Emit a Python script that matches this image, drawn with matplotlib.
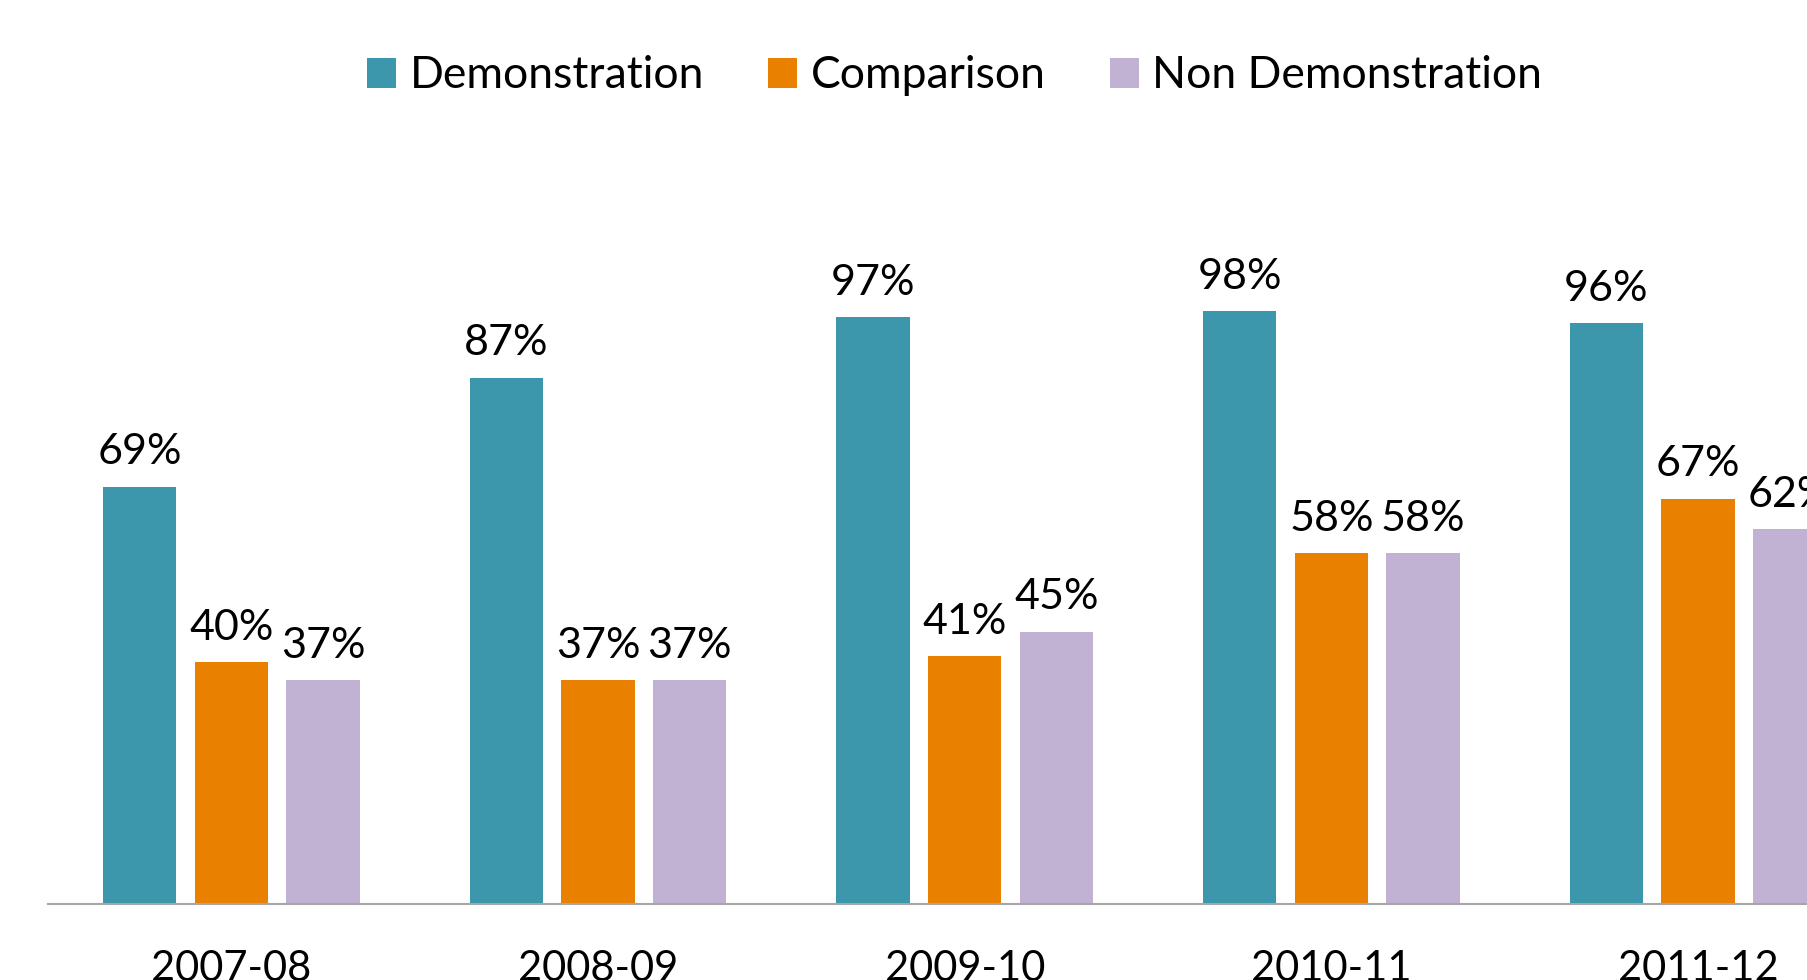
import matplotlib
matplotlib.use("Agg")
import matplotlib.pyplot as plt
import numpy as np

years = ["2007-08", "2008-09", "2009-10", "2010-11", "2011-12"]
demonstration = [69, 87, 97, 98, 96]
comparison = [40, 37, 41, 58, 67]
non_demonstration = [37, 37, 45, 58, 62]

series = [
    ("Demonstration", demonstration, "#3C97AC"),
    ("Comparison", comparison, "#E98000"),
    ("Non Demonstration", non_demonstration, "#C1B1D3"),
]

plt.rcParams['font.family'] = ['Lato', 'DejaVu Sans']

fig = plt.figure(figsize=(18.08, 9.80), dpi=100)
# axes runs past the right edge, like the cropped original
ax = fig.add_axes([48 / 1808, 76 / 980, 1833.5 / 1808, 726 / 980])

x = np.arange(len(years))
offsets = [-0.25, 0, 0.25]
handles = []
for (name, vals, color), off in zip(series, offsets):
    bars = ax.bar(x + off, vals, width=0.2, color=color, label=name)
    handles.append(bars)
    for xi, v in zip(x + off, vals):
        ax.annotate(f"{v}%", (xi, v), xytext=(0, 11), textcoords="offset points",
                    ha="center", va="bottom", fontsize=31)

ax.set_xlim(-0.5, 4.5)
ax.set_ylim(0, 120)
ax.set_xticks(x)
ax.set_xticklabels(years, fontsize=30)
ax.tick_params(axis="x", length=0, pad=33)
ax.set_yticks([])
for s in ["top", "right", "left"]:
    ax.spines[s].set_visible(False)
ax.spines["bottom"].set_color("#A6A6A6")
ax.spines["bottom"].set_linewidth(1.5)

fig.legend(handles=handles, loc="center", bbox_to_anchor=(0.528, 1 - 76 / 980),
           ncol=3, frameon=False, fontsize=32, handlelength=0.65, handleheight=0.65,
           handletextpad=0.3, columnspacing=1.45)

fig.savefig("out.png", dpi=100)
